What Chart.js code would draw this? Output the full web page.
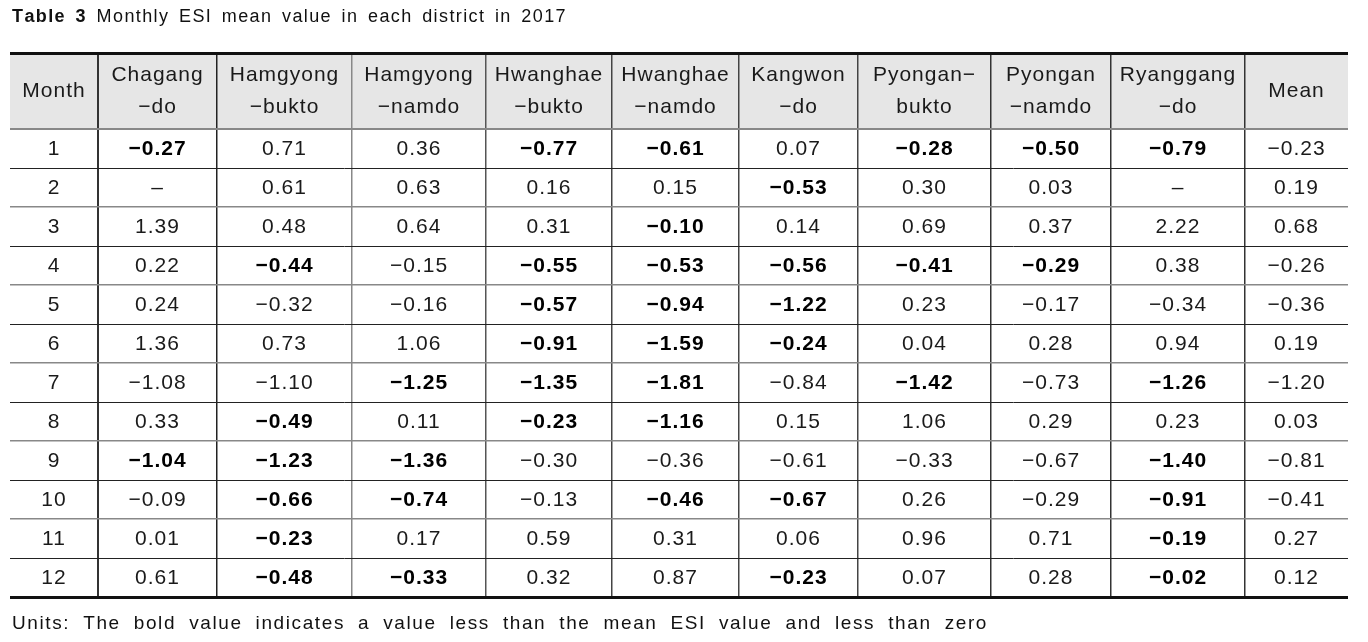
<!DOCTYPE html>
<html><head><meta charset="utf-8">
<script src="https://cdn.jsdelivr.net/npm/chart.js@4/dist/chart.umd.min.js"></script>
<style>html,body{margin:0;padding:0;background:#fff}#wrap{width:1368px;height:642px;position:relative}</style>
</head><body><div id="wrap"><canvas id="c"></canvas></div>
<script>
// ---------- data ----------
const titleBold = "Table 3";
const titleText = "Monthly ESI mean value in each district in 2017";
const footnote = "Units: The bold value indicates a value less than the mean ESI value and less than zero";
const months = ["1","2","3","4","5","6","7","8","9","10","11","12"];
const columnHeaders = [
  ["Month"], ["Chagang","\u2212do"], ["Hamgyong","\u2212bukto"], ["Hamgyong","\u2212namdo"],
  ["Hwanghae","\u2212bukto"], ["Hwanghae","\u2212namdo"], ["Kangwon","\u2212do"],
  ["Pyongan\u2212","bukto"], ["Pyongan","\u2212namdo"], ["Ryanggang","\u2212do"], ["Mean"]
];
const chagang       = [-0.27, null, 1.39, 0.22, 0.24, 1.36, -1.08, 0.33, -1.04, -0.09, 0.01, 0.61];
const hamgyongBukto = [0.71, 0.61, 0.48, -0.44, -0.32, 0.73, -1.10, -0.49, -1.23, -0.66, -0.23, -0.48];
const hamgyongNamdo = [0.36, 0.63, 0.64, -0.15, -0.16, 1.06, -1.25, 0.11, -1.36, -0.74, 0.17, -0.33];
const hwanghaeBukto = [-0.77, 0.16, 0.31, -0.55, -0.57, -0.91, -1.35, -0.23, -0.30, -0.13, 0.59, 0.32];
const hwanghaeNamdo = [-0.61, 0.15, -0.10, -0.53, -0.94, -1.59, -1.81, -1.16, -0.36, -0.46, 0.31, 0.87];
const kangwon       = [0.07, -0.53, 0.14, -0.56, -1.22, -0.24, -0.84, 0.15, -0.61, -0.67, 0.06, -0.23];
const pyonganBukto  = [-0.28, 0.30, 0.69, -0.41, 0.23, 0.04, -1.42, 1.06, -0.33, 0.26, 0.96, 0.07];
const pyonganNamdo  = [-0.50, 0.03, 0.37, -0.29, -0.17, 0.28, -0.73, 0.29, -0.67, -0.29, 0.71, 0.28];
const ryanggang     = [-0.79, null, 2.22, 0.38, -0.34, 0.94, -1.26, 0.23, -1.40, -0.91, -0.19, -0.02];
const meanValues    = [-0.23, 0.19, 0.68, -0.26, -0.36, 0.19, -1.20, 0.03, -0.81, -0.41, 0.27, 0.12];

// ---------- layout / style ----------
const COL_W = [88,119,135,134,126,127,119,133,120,134,103];
const HEADER_H = 1.95;
const FONT = '"Liberation Sans", Arial, sans-serif';
const bounds = [0]; COL_W.forEach(w => bounds.push(bounds[bounds.length-1] + w));
const centers = COL_W.map((w,i) => bounds[i] + w/2);
const yTicks = [0, HEADER_H]; months.forEach((m,i) => yTicks.push(HEADER_H + i + 1));
const Y_MAX = HEADER_H + months.length;

const fmt = v => v === null ? "\u2013" : (v < 0 ? "\u2212" : "") + Math.abs(v).toFixed(2);
const isBold = (v, i) => v !== null && v < 0 && v < meanValues[i];

const valueCols = [chagang, hamgyongBukto, hamgyongNamdo, hwanghaeBukto, hwanghaeNamdo,
                   kangwon, pyonganBukto, pyonganNamdo, ryanggang, meanValues];

const datasets = [];
datasets.push({
  label: "Month",
  data: months.map((m,i) => ({x: centers[0], y: HEADER_H + i + 0.5})),
  cellText: months, cellBold: months.map(() => false)
});
valueCols.forEach((arr, c) => {
  datasets.push({
    label: columnHeaders[c+1].join(""),
    data: arr.map((v,i) => ({x: centers[c+1], y: HEADER_H + i + 0.5})),
    cellText: arr.map(fmt),
    cellBold: arr.map((v,i) => c === valueCols.length-1 ? false : isBold(v,i))
  });
});
datasets.forEach(d => { d.pointRadius = 0; d.pointHoverRadius = 0; d.showLine = false; });

const vColors = ['rgba(0,0,0,0)','#333','#222','#888','#555','#444','#444','#444','#333','#333','#333','rgba(0,0,0,0)'];

// draws text so that it spans the target width: letter spacing, remaining space into word gaps
function fitText(ctx, parts, x, y, target, ls) {
  let natural = 0, n = 0, spaces = 0;
  parts.forEach(p => {
    ctx.font = p.font;
    for (const ch of p.text) { natural += ctx.measureText(ch).width; n++; if (ch === ' ') spaces++; }
  });
  const extraSpace = Math.max(0, (target - natural - ls * n) / Math.max(1, spaces));
  let cx = x;
  parts.forEach(p => {
    ctx.font = p.font;
    for (const ch of p.text) {
      ctx.fillText(ch, cx, y);
      cx += ctx.measureText(ch).width + ls + (ch === ' ' ? extraSpace : 0);
    }
  });
}

const tablePlugin = {
  id: 'tablePlugin',
  beforeDraw(chart) {
    const ctx = chart.ctx, xs = chart.scales.x, ys = chart.scales.y;
    ctx.save();
    ctx.fillStyle = '#e6e6e6';
    const top = ys.getPixelForValue(0), bot = ys.getPixelForValue(HEADER_H);
    ctx.fillRect(xs.getPixelForValue(0), top, xs.getPixelForValue(bounds[bounds.length-1]) - xs.getPixelForValue(0), bot - top);
    ctx.restore();
  },
  afterDatasetsDraw(chart) {
    const ctx = chart.ctx, xs = chart.scales.x, ys = chart.scales.y;
    ctx.save();
    ctx.textAlign = 'center';
    ctx.textBaseline = 'middle';
    try { ctx.letterSpacing = '1px'; } catch(e) {}
    // header
    ctx.fillStyle = '#1a1a1a';
    ctx.font = '21px ' + FONT;
    const hy = ys.getPixelForValue(HEADER_H/2);
    columnHeaders.forEach((lines, c) => {
      const x = xs.getPixelForValue(centers[c]);
      if (lines.length === 1) ctx.fillText(lines[0], x, hy);
      else { ctx.fillText(lines[0], x, hy - 16); ctx.fillText(lines[1], x, hy + 16); }
    });
    // cells
    chart.data.datasets.forEach((ds, d) => {
      const meta = chart.getDatasetMeta(d);
      meta.data.forEach((el, i) => {
        const b = ds.cellBold[i];
        ctx.font = (b ? 'bold ' : '') + '21px ' + FONT;
        ctx.fillStyle = b ? '#000' : '#1a1a1a';
        ctx.fillText(ds.cellText[i], el.x, el.y + 1);
      });
    });
    // title & footnote
    try { ctx.letterSpacing = '0px'; } catch(e) {}
    ctx.textAlign = 'left';
    ctx.textBaseline = 'alphabetic';
    ctx.fillStyle = '#111';
    fitText(ctx, [{text: titleBold + ' ', font: 'bold 18px ' + FONT}, {text: titleText, font: '18px ' + FONT}], 12, 22, 555, 1.4);
    fitText(ctx, [{text: footnote, font: '19px ' + FONT}], 12, 629, 976, 1.6);
    ctx.restore();
  }
};

new Chart(document.getElementById('c'), {
  type: 'scatter',
  data: { datasets },
  options: {
    responsive: true, maintainAspectRatio: false, animation: false, events: [],
    layout: { padding: { left: 10, right: 20, top: 53, bottom: 45 } },
    plugins: { legend: { display: false }, tooltip: { enabled: false }, title: { display: false } },
    scales: {
      x: {
        type: 'linear', min: 0, max: bounds[bounds.length-1],
        afterBuildTicks: s => { s.ticks = bounds.map(v => ({value: v})); },
        afterFit: s => { s.height = 0; },
        ticks: { display: false }, border: { display: false },
        grid: { drawTicks: false, color: c => vColors[c.index] || '#444', lineWidth: c => c.index === 1 ? 2 : 1.5 }
      },
      y: {
        type: 'linear', min: 0, max: Y_MAX, reverse: true,
        afterBuildTicks: s => { s.ticks = yTicks.map(v => ({value: v})); },
        afterFit: s => { s.width = 0; },
        ticks: { display: false }, border: { display: false },
        grid: {
          drawTicks: false,
          color: c => {
            const i = c.index;
            if (i === 0 || i === yTicks.length-1) return '#111';
            if (i === 1) return '#888';
            return ((i-1) % 2 === 1) ? '#222' : '#888';
          },
          lineWidth: c => {
            const i = c.index;
            if (i === 0 || i === yTicks.length-1) return 3;
            if (i === 1) return 2;
            return ((i-1) % 2 === 1) ? 1 : 1.5;
          }
        }
      }
    }
  },
  plugins: [tablePlugin]
});
</script></body></html>
